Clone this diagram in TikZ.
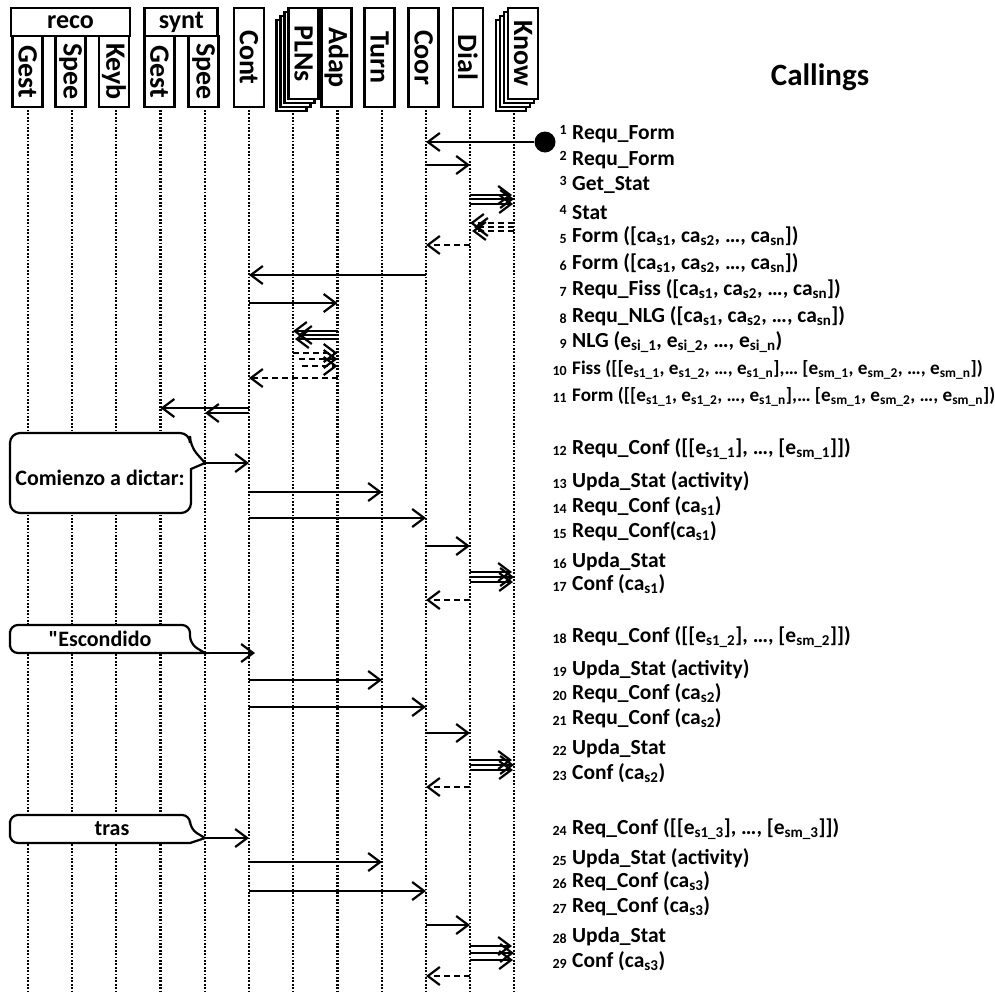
\documentclass[tikz,border=0pt]{standalone}
\usepackage{fontspec}
\setmainfont{Carlito}[Ligatures=TeXOff]
\usetikzlibrary{arrows.meta}
\newcommand{\lo}[1]{\textsubscript{#1}}
\tikzset{
    life/.style={line width=2.2pt, dash pattern=on 1.8pt off 1.6pt},
    call/.style={line width=2.2pt, -{Straight Barb[length=12pt,width=18pt,line width=2.2pt]}},
    reply/.style={call, dash pattern=on 6pt off 4pt},
    head/.style={draw, line width=2.8pt, fill=white, rotate=-90, minimum height=30pt,
                 inner sep=0pt, font=\bfseries\fontsize{28}{30}\selectfont},
    bar/.style={draw, line width=2.8pt, fill=white, minimum height=28pt, inner sep=0pt,
                font=\bfseries\fontsize{26}{28}\selectfont},
    num/.style={anchor=base east, inner sep=0pt, font=\bfseries\fontsize{14}{15}\selectfont},
    txt/.style={anchor=base west, inner sep=0pt, font=\bfseries\fontsize{21.5}{24}\selectfont},
    bubble/.style={line width=2.2pt, fill=white}
}
\begin{document}
\begin{tikzpicture}[x=1pt, y=-1pt]
    \useasboundingbox (0,0) rectangle (995,993);

    % lifelines
    \foreach \c/\x in {rGest/28, rSpee/72, rKeyb/116, sGest/160.5, sSpee/205, Cont/249,
                       PLNs/293, Adap/337.5, Turn/382, Coor/426, Dial/470, Know/514}
    {
        \coordinate (\c) at (\x,110);
        \draw[life] (\c) -- (\x,993);
    }

    % component heads
    \node[bar, minimum width=119pt] (reco) at (70.5,22) {reco};
    \node[bar, minimum width=73pt] (synt) at (181.3,22) {synt};
    \foreach \c/\t/\x in {hrGest/Gest/27.7, hrSpee/Spee/70.5, hrKeyb/Keyb/114,
                          hsGest/Gest/159.5, hsSpee/Spee/203.5}
        \node[head, minimum width=71pt] (\c) at (\x,71.5) {\t};
    \foreach \c/\x in {Cont/249, Adap/336.6, Turn/379.6, Coor/423.8, Dial/467.9}
        \node[head, minimum width=99pt] (h\c) at (\x,57.5) {\c};
    % stacked heads
    \foreach \k in {3,2,1}
    {
        \node[head, minimum width=91pt] at (303.5-4*\k,53.5+4*\k) {};
        \node[head, minimum width=91pt] at (523-4*\k,53.5+4*\k) {};
    }
    \node[head, minimum width=91pt] (hPLNs) at (303.5,53.5) {PLNs};
    \node[head, minimum width=91pt] (hKnow) at (523,53.5) {Know};

    \node[font=\bfseries\fontsize{31}{34}\selectfont] (title) at (820,77) {Callings};

    % list of callings
    \foreach \y/\k/\t in {132/1/Requ\_Form, 158/2/Requ\_Form, 183/3/Get\_Stat, 212/4/Stat}
    {
        \node[txt] (c\k) at (572,\y+7) {\t};
        \node[num] (n\k) at (567,\y+2) {\k};
    }
    \foreach \y/\k/\t in {
        235/5/{Form ([ca\lo{s1}, ca\lo{s2}, …, ca\lo{sn}])},
        262/6/{Form ([ca\lo{s1}, ca\lo{s2}, …, ca\lo{sn}])},
        288/7/{Requ\_Fiss ([ca\lo{s1}, ca\lo{s2}, …, ca\lo{sn}])},
        315/8/{Requ\_NLG ([ca\lo{s1}, ca\lo{s2}, …, ca\lo{sn}])},
        340/9/{NLG (e\lo{si\_1}, e\lo{si\_2}, …, e\lo{si\_n})},
        447/12/{Requ\_Conf ([[e\lo{s1\_1}], …, [e\lo{sm\_1}]])},
        480/13/{Upda\_Stat (activity)},
        505/14/{Requ\_Conf (ca\lo{s1})},
        530/15/{Requ\_Conf(ca\lo{s1})},
        560/16/{Upda\_Stat},
        583/17/{Conf (ca\lo{s1})},
        635/18/{Requ\_Conf ([[e\lo{s1\_2}], …, [e\lo{sm\_2}]])},
        668/19/{Upda\_Stat (activity)},
        692/20/{Requ\_Conf (ca\lo{s2})},
        717/21/{Requ\_Conf (ca\lo{s2})},
        747/22/{Upda\_Stat},
        772/23/{Conf (ca\lo{s2})},
        827/24/{Req\_Conf ([[e\lo{s1\_3}], …, [e\lo{sm\_3}]])},
        857/25/{Upda\_Stat (activity)},
        880/26/{Req\_Conf (ca\lo{s3})},
        905/27/{Req\_Conf (ca\lo{s3})},
        935/28/{Upda\_Stat},
        960/29/{Conf (ca\lo{s3})}}
    {
        \node[txt] (c\k) at (572,\y+7) {\t};
        \node[num] (n\k) at (567,\y+8) {\k};
    }
    \node[txt, font=\bfseries\fontsize{19.2}{20}\selectfont] (c10) at (572,374)
        {Fiss ([[e\lo{s1\_1}, e\lo{s1\_2}, …, e\lo{s1\_n}],… [e\lo{sm\_1}, e\lo{sm\_2}, …, e\lo{sm\_n}])};
    \node[num] (n10) at (567,375) {10};
    \node[txt, font=\bfseries\fontsize{19.2}{20}\selectfont] (c11) at (572,401)
        {Form ([[e\lo{s1\_1}, e\lo{s1\_2}, …, e\lo{s1\_n}],… [e\lo{sm\_1}, e\lo{sm\_2}, …, e\lo{sm\_n}])};
    \node[num] (n11) at (567,402) {11};

    % speech bubbles
    \draw[bubble] (10,473) [rounded corners=10pt] -- (10,433) -- (190,433) -- (190,446)
        [sharp corners] -- (205,463) -- (191,469) [rounded corners=10pt] -- (191,513) -- (10,513) -- cycle;
    \node[font=\bfseries\fontsize{22}{24}\selectfont] (say1) at (100,478) {Comienzo a dictar:};
    \coordinate (tip1) at (205,463);
    \draw[bubble] (10,639) [rounded corners=8pt] -- (10,625) -- (190,625) -- (190,644)
        [sharp corners] -- (205,653) [rounded corners=8pt] -- (10,653) -- cycle;
    \node[font=\bfseries\fontsize{22}{24}\selectfont] (say2) at (100,639) {"Escondido};
    \coordinate (tip2) at (205,653);
    \draw[bubble] (10,829) [rounded corners=8pt] -- (10,815) -- (190,815) -- (190,829)
        [sharp corners] -- (205,838) -- (190,843) [rounded corners=8pt] -- (10,843) -- cycle;
    \node[font=\bfseries\fontsize{22}{24}\selectfont] (say3) at (112,829) {tras};
    \coordinate (tip3) at (205,838);

    % messages
    \node[circle, fill, inner sep=0pt, minimum size=21pt] (init) at (545,142) {};
    \draw[call] (init) -- (Coor |- init);
    \draw[call] (Coor |- 0,165) -- (Dial |- 0,165);
    \foreach \y/\s in {195/2, 199/0, 204/1}
        \draw[call, shorten >=\s pt] (Dial |- 0,\y) -- (Know |- 0,\y);
    \foreach \y/\s in {223/0, 227/4, 231/2}
        \draw[reply, shorten >=\s pt] (Know |- 0,\y) -- (Dial |- 0,\y);
    \draw[reply] (Dial |- 0,245) -- (Coor |- 0,245);
    \draw[call] (Coor |- 0,275) -- (Cont |- 0,275);
    \draw[call] (Cont |- 0,303) -- (Adap |- 0,303);
    \foreach \y/\s in {331/0, 335/5, 339/2}
        \draw[call, shorten >=\s pt] (Adap |- 0,\y) -- (PLNs |- 0,\y);
    \foreach \y/\s in {353/0, 359/6, 366/9}
        \draw[reply, shorten <=\s pt] (PLNs |- 0,\y) -- (Adap |- 0,\y);
    \draw[reply] (Adap |- 0,378) -- (Cont |- 0,378);
    \draw[call] (Cont |- 0,408) -- (sGest |- 0,408);
    \draw[call] (Cont |- 0,413) -- (sSpee |- 0,413);

    \draw[call] (tip1) -- (Cont |- tip1);
    \draw[call] (Cont |- 0,492) -- (Turn |- 0,492);
    \draw[call] (Cont |- 0,518) -- (Coor |- 0,518);
    \draw[call] (Coor |- 0,546) -- (Dial |- 0,546);
    \foreach \y/\s in {572/2, 577/0, 582/1}
        \draw[call, shorten >=\s pt] (Dial |- 0,\y) -- (Know |- 0,\y);
    \draw[reply] (Dial |- 0,600) -- (Coor |- 0,600);

    \draw[call, shorten >=-6pt] (tip2) -- (Cont |- tip2);
    \draw[call] (Cont |- 0,680) -- (Turn |- 0,680);
    \draw[call] (Cont |- 0,707) -- (Coor |- 0,707);
    \draw[call] (Coor |- 0,733) -- (Dial |- 0,733);
    \foreach \y/\s in {760/2, 765/0, 770/1}
        \draw[call, shorten >=\s pt] (Dial |- 0,\y) -- (Know |- 0,\y);
    \draw[reply] (Dial |- 0,787) -- (Coor |- 0,787);

    \draw[call] (tip3) -- (Cont |- tip3);
    \draw[call] (Cont |- 0,862) -- (Turn |- 0,862);
    \draw[call] (Cont |- 0,891) -- (Coor |- 0,891);
    \draw[call] (Coor |- 0,925) -- (Dial |- 0,925);
    \foreach \y/\s in {946/2, 953/0, 960/1}
        \draw[call, shorten >=\s pt] (Dial |- 0,\y) -- (Know |- 0,\y);
    \draw[reply] (Dial |- 0,976) -- (Coor |- 0,976);
\end{tikzpicture}
\end{document}
